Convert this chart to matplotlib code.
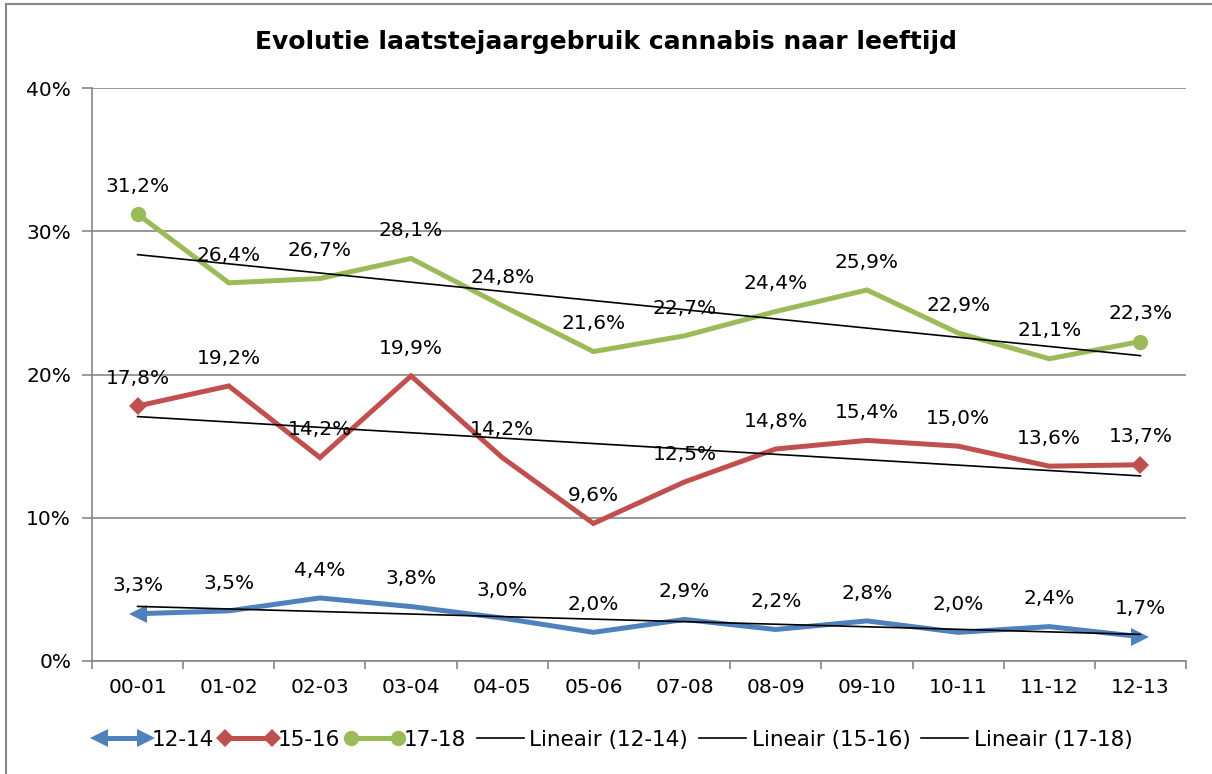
import numpy as np
import matplotlib.pyplot as plt
from matplotlib.lines import Line2D
from matplotlib.legend_handler import HandlerBase
from matplotlib.patches import Rectangle

jaren = ['00-01', '01-02', '02-03', '03-04', '04-05', '05-06',
         '07-08', '08-09', '09-10', '10-11', '11-12', '12-13']
groep_12_14 = [3.3, 3.5, 4.4, 3.8, 3.0, 2.0, 2.9, 2.2, 2.8, 2.0, 2.4, 1.7]
groep_15_16 = [17.8, 19.2, 14.2, 19.9, 14.2, 9.6, 12.5, 14.8, 15.4, 15.0, 13.6, 13.7]
groep_17_18 = [31.2, 26.4, 26.7, 28.1, 24.8, 21.6, 22.7, 24.4, 25.9, 22.9, 21.1, 22.3]

reeksen = [
    ('12-14', groep_12_14, '#4F81BD', ('<', '>'), 13),
    ('15-16', groep_15_16, '#C0504D', ('D', 'D'), 9),
    ('17-18', groep_17_18, '#9BBB59', ('o', 'o'), 11),
]


class EndMarkers(HandlerBase):
    """Legendasymbool met een eigen marker aan elk uiteinde"""
    def __init__(self, markers, size, **kw):
        super().__init__(**kw)
        self.markers = markers
        self.size = size

    def create_artists(self, legend, orig_handle, xdescent, ydescent,
                       width, height, fontsize, trans):
        y = height / 2 - ydescent
        x0, x1 = -xdescent, width - xdescent
        kleur = orig_handle.get_color()
        lijn = Line2D([x0, x1], [y, y], color=kleur, lw=orig_handle.get_linewidth())
        links = Line2D([x0], [y], marker=self.markers[0], color=kleur,
                       markersize=self.size, markeredgewidth=0)
        rechts = Line2D([x1], [y], marker=self.markers[1], color=kleur,
                        markersize=self.size, markeredgewidth=0)
        for a in (lijn, links, rechts):
            a.set_transform(trans)
        return [lijn, links, rechts]


fig = plt.figure(figsize=(12.12, 7.74), dpi=100)
ax = fig.add_axes([92 / 1212, 1 - 661 / 774, (1186 - 92) / 1212, (661 - 88) / 774])

x = np.arange(len(jaren))
handles = []
handler_map = {}
for naam, waarden, kleur, markers, ms in reeksen:
    lijn, = ax.plot(x, waarden, color=kleur, lw=3.6, solid_joinstyle='miter', zorder=3)
    ax.plot(x[:1], waarden[:1], marker=markers[0], color=kleur, ms=ms, mew=0, ls='none', zorder=4)
    ax.plot(x[-1:], waarden[-1:], marker=markers[1], color=kleur, ms=ms, mew=0, ls='none', zorder=4)
    handles.append(lijn)
    handler_map[lijn] = EndMarkers(markers, ms)
    for xi, v in zip(x, waarden):
        ax.annotate(f'{v:.1f}%'.replace('.', ','), (xi, v), xytext=(0, 20),
                    textcoords='offset points', ha='center', va='center', fontsize=14.5)

trend_handles = []
for naam, waarden, kleur, markers, ms in reeksen:
    a, b = np.polyfit(x, waarden, 1)
    t, = ax.plot(x, a * x + b, color='black', lw=1.2, zorder=5)
    trend_handles.append(t)

ax.set_xlim(-0.5, len(jaren) - 0.5)
ax.set_ylim(0, 40)
ax.set_yticks([0, 10, 20, 30, 40])
ax.set_yticklabels(['0%', '10%', '20%', '30%', '40%'], fontsize=14.5)
ax.set_xticks(x)
ax.set_xticklabels(jaren, fontsize=14.5)
ax.set_xticks(np.arange(-0.5, len(jaren)), minor=True)
ax.tick_params(axis='x', which='major', length=0, pad=12)
ax.tick_params(axis='x', which='minor', length=6, color='#868686', width=1.2)
ax.tick_params(axis='y', length=7, color='#868686', width=1.2, pad=8)
ax.grid(axis='y', color='#868686', lw=1.2)
ax.set_axisbelow(True)
for s in ['top', 'right']:
    ax.spines[s].set_visible(False)
for s in ['left', 'bottom']:
    ax.spines[s].set_color('#868686')
    ax.spines[s].set_linewidth(1.2)

fig.text(0.5, 1 - 42 / 774, 'Evolutie laatstejaargebruik cannabis naar leeftijd',
         ha='center', va='center', fontsize=18, fontweight='bold')

labels = [r[0] for r in reeksen] + ['Lineair (12-14)', 'Lineair (15-16)', 'Lineair (17-18)']
fig.legend(handles + trend_handles, labels, handler_map=handler_map, loc='center',
           bbox_to_anchor=(0.508, 1 - 740 / 774), ncol=6, frameon=False, fontsize=15.5,
           handlelength=2.2, handletextpad=0.25, columnspacing=0.5)

fig.patches.append(Rectangle((6 / 1212, -0.5), 2, 0.5 + 1 - 4 / 774, transform=fig.transFigure,
                             fill=False, edgecolor='#868686', lw=1.5))

plt.savefig('out.png', dpi=100)
